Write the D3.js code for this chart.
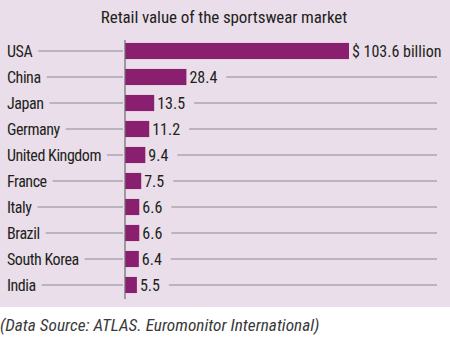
<!DOCTYPE html>
<html><head><meta charset="utf-8">
<script src="https://cdn.jsdelivr.net/npm/d3@7"></script>
<style>
html,body{margin:0;padding:0;background:#fff;}
svg{display:block;}
</style></head>
<body>
<svg id="chart" width="450" height="341"></svg>
<script>
const title = "Retail value of the sportswear market";
const countries = ["USA","China","Japan","Germany","United Kingdom","France","Italy","Brazil","South Korea","India"];
const values = [103.6,28.4,13.5,11.2,9.4,7.5,6.6,6.6,6.4,5.5];
const valueLabels = ["$ 103.6 billion","28.4","13.5","11.2","9.4","7.5","6.6","6.6","6.4","5.5"];
const source = "(Data Source: ATLAS. Euromonitor International)";

const FONT = "'Roboto Condensed','DejaVu Sans Condensed',sans-serif";
const svg = d3.select("#chart");
const W = 450;

svg.append("rect").attr("x",0).attr("y",0).attr("width",W).attr("height",307).attr("fill","#e9dee9");

svg.append("text").attr("x",224).attr("y",23).attr("text-anchor","middle")
  .attr("font-family",FONT).attr("font-size",17).attr("letter-spacing",-0.1).attr("fill","#231f20").text(title);

const x0 = 125;
const x = d3.scaleLinear().domain([0,103.6]).range([x0,349]);
const y = d3.scaleBand().domain(countries).range([38,298]).paddingInner(0.38).paddingOuter(0.19);

const rows = svg.append("g").selectAll("g").data(countries).join("g");

// labels
const labels = rows.append("text").attr("x",7).attr("y",c=>y(c)+y.bandwidth()/2).attr("dy","0.36em")
  .attr("font-family",FONT).attr("font-size",16).attr("letter-spacing",-0.45).attr("fill","#231f20").text(c=>c);

// left leader lines
labels.each(function(c){
  const w = this.getComputedTextLength();
  svg.append("line").attr("x1",7+w+6).attr("x2",x0-2)
    .attr("y1",y(c)+y.bandwidth()/2).attr("y2",y(c)+y.bandwidth()/2)
    .attr("stroke","#8f8a8f").attr("stroke-width",1);
});

// bars
svg.append("g").selectAll("rect").data(countries).join("rect")
  .attr("x",x(0)).attr("y",c=>y(c)).attr("height",y.bandwidth())
  .attr("width",(c,i)=>x(values[i])-x(0)).attr("fill","#8a1f6f");

// value labels + right leader lines
countries.forEach((c,i)=>{
  const cy = y(c)+y.bandwidth()/2;
  const t = svg.append("text").attr("x",x(values[i])+3).attr("y",cy).attr("dy","0.36em")
    .attr("font-family",FONT).attr("font-size",16).attr("fill","#231f20").text(valueLabels[i]);
  const end = x(values[i])+3+t.node().getComputedTextLength();
  if (end < 420) {
    svg.append("line").attr("x1",end+9).attr("x2",437).attr("y1",cy).attr("y2",cy)
      .attr("stroke","#8f8a8f").attr("stroke-width",1);
  }
});

// axis
svg.append("line").attr("x1",x0).attr("x2",x0).attr("y1",40).attr("y2",299)
  .attr("stroke","#6e6a6e").attr("stroke-width",1.2);

svg.append("text").attr("x",0).attr("y",331).attr("font-family",FONT).attr("font-style","italic")
  .attr("font-size",17.3).attr("fill","#3a3a3a").text(source);
</script>
</body></html>
